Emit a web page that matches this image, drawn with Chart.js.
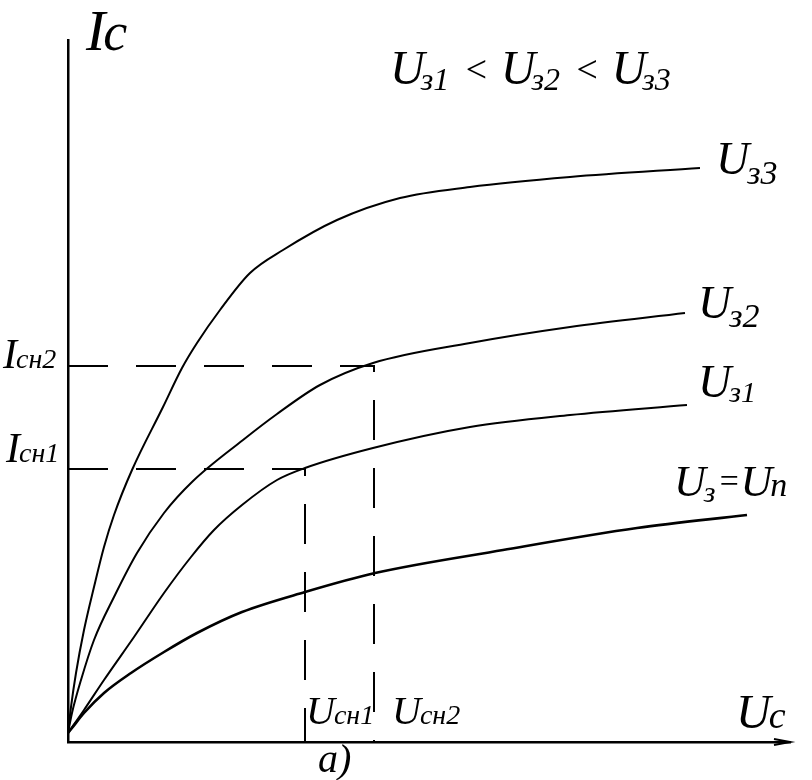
<!DOCTYPE html>
<html>
<head>
<meta charset="utf-8">
<title>Стоковые характеристики</title>
<script src="https://cdn.jsdelivr.net/npm/chart.js@4.4.1/dist/chart.umd.min.js"></script>
<style>
  html, body { margin: 0; padding: 0; background: #fff; }
  #wrap { width: 812px; height: 780px; }
</style>
</head>
<body>
<div id="wrap"><canvas id="canvas"></canvas></div>
<script>
// Uс (x) and Iс (y), arbitrary units
const uc33 = [0, 0.3, 0.8, 1.6, 2.6, 3.6, 4.6, 6.4, 9.5, 11.4, 12.9, 15.2, 18.2, 21.5, 26.9, 33.2, 40.2, 50.2, 63.2];
const ic33 = [0.9, 3.5, 6.9, 11.2, 15.5, 19.5, 22.7, 27.2, 33.5, 37.4, 39.9, 43.2, 46.9, 49.2, 52.2, 54.4, 55.5, 56.5, 57.4];

const uc32 = [0, 0.4, 1.3, 2.6, 4.6, 6.9, 9.6, 12.4, 17.5, 20.9, 25.2, 30.5, 40.2, 50.2, 61.7];
const ic32 = [0.9, 2.9, 6.2, 10.2, 14.5, 18.9, 22.9, 26.0, 30.2, 32.8, 35.7, 37.9, 39.9, 41.5, 42.9];

const uc31 = [0, 1.6, 3.6, 6.6, 9.6, 12.3, 14.6, 17.4, 20.9, 23.7, 30.5, 40.2, 50.2, 61.9];
const ic31 = [0.9, 3.2, 6.2, 10.5, 14.9, 18.5, 21.2, 23.7, 26.2, 27.4, 29.4, 31.5, 32.7, 33.7];

const ucP = [0, 0.4, 1.6, 3.6, 6.3, 9.6, 12.9, 17.4, 23.7, 30.7, 43.5, 56.9, 67.9];
const icP = [0.9, 1.4, 2.9, 4.9, 6.9, 9.0, 10.9, 13.0, 15.0, 16.9, 19.2, 21.4, 22.7];

// saturation points (Uсн, Iсн)
const ucSat = [23.7, 30.6];
const icSat = [27.3, 37.6];

const ucMax = 72.2;
const icMax = 70.2;

function pts(xs, ys) {
  return xs.map((x, i) => ({ x: x, y: ys[i] }));
}

function curve(xs, ys, w) {
  return {
    data: pts(xs, ys),
    borderColor: "#000",
    borderWidth: w,
    pointRadius: 0,
    cubicInterpolationMode: "monotone",
  };
}

function dashed(i) {
  return {
    data: pts([0, ucSat[i], ucSat[i]], [icSat[i], icSat[i], 0]),
    borderColor: "#000",
    borderWidth: 2,
    borderDash: [40, 28],
    pointRadius: 0,
    tension: 0,
  };
}

function drawParts(ctx, x, y, parts) {
  parts.forEach((p) => {
    ctx.font = "italic " + p[1] + 'px "Liberation Serif"';
    ctx.fillText(p[0], x, y + (p[2] || 0));
    x += ctx.measureText(p[0]).width + (p[3] || 0);
  });
}

const sketchText = {
  id: "sketchText",
  afterDraw(chart) {
    const ctx = chart.ctx;
    const a = chart.chartArea;
    ctx.save();
    ctx.fillStyle = "#000";
    ctx.strokeStyle = "#000";
    ctx.textBaseline = "alphabetic";

    // arrow on the Uс axis
    ctx.lineWidth = 2;
    ctx.beginPath();
    ctx.moveTo(a.right - 16, a.bottom - 3);
    ctx.lineTo(a.right, a.bottom);
    ctx.lineTo(a.right - 16, a.bottom + 3);
    ctx.stroke();

    // axis names
    drawParts(ctx, 86, 50, [["I", 58, 0, -2], ["с", 54]]);
    drawParts(ctx, 736, 728, [["U", 48, 0, -2], ["с", 38]]);

    // condition
    drawParts(ctx, 390, 84, [
      ["U", 48, 0, -4], ["з1", 32, 6, 14],
      ["<", 38, -2, 12],
      ["U", 48, 0, -4], ["з2", 32, 6, 14],
      ["<", 38, -2, 12],
      ["U", 48, 0, -4], ["з3", 32, 6],
    ]);

    // curve names
    drawParts(ctx, 716, 174, [["U", 46, 0, -2], ["з3", 34, 10]]);
    drawParts(ctx, 698, 318, [["U", 46, 0, -2], ["з2", 34, 9]]);
    drawParts(ctx, 698, 397, [["U", 46, 0, -2], ["з1", 30, 5]]);
    drawParts(ctx, 674, 496, [["U", 44, 0, -2], ["з", 30, 6, 2], ["=", 34, -4, 0], ["U", 44, 0, -2], ["п", 34]]);

    // saturation labels
    drawParts(ctx, 3, 368, [["I", 42, 0, -1], ["сн2", 28]]);
    drawParts(ctx, 6, 462, [["I", 42, 0, -1], ["сн1", 28]]);
    drawParts(ctx, 306, 724, [["U", 40, 0, -1], ["сн1", 28]]);
    drawParts(ctx, 392, 724, [["U", 40, 0, -1], ["сн2", 28]]);

    drawParts(ctx, 318, 772, [["а)", 40]]);
    ctx.restore();
  },
};

const ctx = document.getElementById("canvas").getContext("2d");
const myChart = new Chart(ctx, {
  type: "line",
  data: {
    datasets: [
      curve(uc33, ic33, 2),
      curve(uc32, ic32, 2),
      curve(uc31, ic31, 2),
      curve(ucP, icP, 2.6),
      dashed(0),
      dashed(1),
    ],
  },
  options: {
    responsive: true,
    maintainAspectRatio: false,
    animation: false,
    layout: { padding: { left: 68, top: 40, right: 22, bottom: 38 } },
    plugins: { legend: { display: false }, tooltip: { enabled: false } },
    scales: {
      x: {
        type: "linear",
        min: 0,
        max: ucMax,
        grid: { display: false, drawTicks: false },
        border: { display: true, color: "#000", width: 2.5 },
        ticks: { display: false },
      },
      y: {
        min: 0,
        max: icMax,
        grid: { display: false, drawTicks: false },
        border: { display: true, color: "#000", width: 2.5 },
        ticks: { display: false },
      },
    },
  },
  plugins: [sketchText],
});
</script>
</body>
</html>
